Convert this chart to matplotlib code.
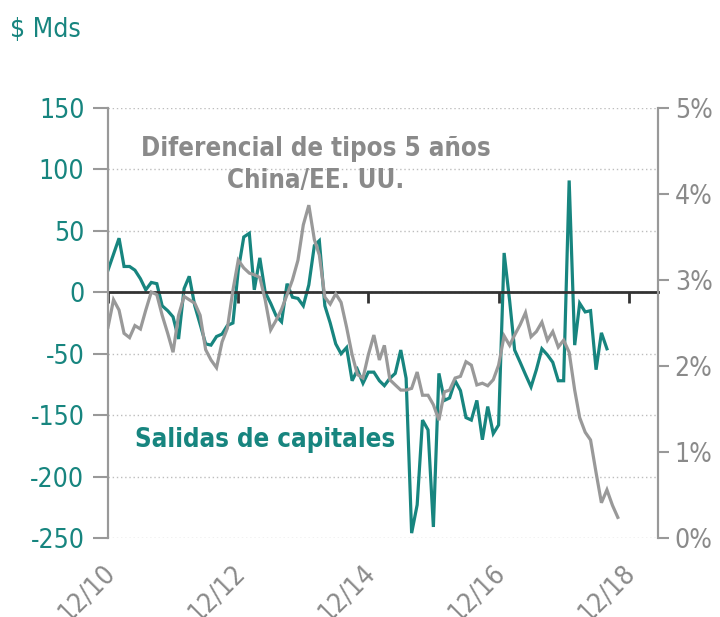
import numpy as np
import pandas as pd
import matplotlib
matplotlib.use("Agg")
import matplotlib.pyplot as plt
import matplotlib.dates as mdates
import matplotlib.transforms as mtransforms

plt.rcParams['font.family'] = ['DejaVu Sans']
plt.rcParams['font.stretch'] = 'condensed'

# salidas de capitales, $ Mds (mensual desde 12/2010)
outflows = [18, 31, 44, 21, 21, 18, 11, 2, 8, 7, -11, -15, -20, -38, 3, 13,
            -11, -26, -42, -43, -36, -34, -27, -25, 18, 45, 48, 2, 28, 0,
            -9, -19, -24, 7, -4, -5, -11, 6, 38, 42, -11, -25, -42, -50,
            -45, -72, -63, -74, -65, -65, -72, -76, -70, -66, -47, -70,
            -196, -173, -104, -112, -191, -66, -88, -86, -72, -80, -102,
            -104, -88, -120, -93, -115, -108, 32, -7, -47, -57, -67, -77,
            -63, -46, -51, -57, -72, -72, 91, -43, -9, -16, -15, -63, -33, -46]

# diferencial de tipos 5 años China/EE. UU., %
spread = [2.45, 2.77, 2.65, 2.38, 2.33, 2.47, 2.43, 2.65, 2.86, 2.83, 2.59,
          2.38, 2.16, 2.59, 2.81, 2.77, 2.73, 2.59, 2.19, 2.07, 1.98, 2.28,
          2.44, 2.88, 3.23, 3.14, 3.08, 3.06, 3.03, 2.77, 2.42, 2.53, 2.66,
          2.83, 3.0, 3.23, 3.64, 3.87, 3.47, 3.29, 2.80, 2.72, 2.84, 2.74,
          2.45, 2.13, 1.90, 1.86, 2.13, 2.36, 2.07, 2.24, 1.84, 1.78, 1.72,
          1.72, 1.74, 1.93, 1.66, 1.66, 1.55, 1.37, 1.70, 1.72, 1.86, 1.88,
          2.05, 2.01, 1.78, 1.80, 1.77, 1.84, 2.01, 2.35, 2.24, 2.36, 2.48,
          2.62, 2.34, 2.40, 2.51, 2.30, 2.40, 2.22, 2.30, 2.16, 1.72, 1.40,
          1.23, 1.14, 0.76, 0.41, 0.56, 0.38, 0.24]

left_ticks = [150, 100, 50, 0, -50, -100, -150, -200]
left_labels = ['150', '100', '50', '0', '-50', '-150', '-200', '-250']
right_ticks = [0, 1, 2, 3, 4, 5]
right_labels = ['0%', '1%', '2%', '3%', '4%', '5%']
xtick_labels = ['12/10', '12/12', '12/14', '12/16', '12/18']

teal = '#17857f'
grey = '#999999'
dgrey = '#8a8a8a'

d_out = pd.date_range('2010-12-01', periods=len(outflows), freq='MS')
d_spr = pd.date_range('2010-12-01', periods=len(spread), freq='MS')
xticks = pd.to_datetime(['2010-12-01', '2012-12-01', '2014-12-01', '2016-12-01', '2018-12-01'])

fig = plt.figure(figsize=(7.2, 6.17), dpi=100)
ax = fig.add_axes([0.15, 0.128, 0.764, 0.697])
ax2 = ax.twinx()

ax.plot(d_out, outflows, color=teal, lw=2.3, solid_joinstyle='miter')
ax2.plot(d_spr, spread, color=grey, lw=2.3, solid_joinstyle='miter')

ax.set_xlim(pd.Timestamp('2010-12-01'), pd.Timestamp('2019-05-15'))
ax.set_ylim(-200, 150)
ax2.set_ylim(0, 5)

for y in left_ticks:
    ax.axhline(y, color='#bdbdbd', lw=1, ls=(0, (1, 2)), zorder=0)

# left axis
ax.set_yticks(left_ticks)
ax.set_yticklabels(left_labels)
ax.tick_params(axis='y', colors=grey, labelcolor=teal, labelsize=19,
               length=11, width=1.5, direction='out', pad=6)
for lab in ax.get_yticklabels():
    lab.set_color(teal)

# right axis
ax2.set_yticks(right_ticks)
ax2.set_yticklabels(right_labels)
ax2.tick_params(axis='y', colors=grey, labelcolor=dgrey, labelsize=19,
                length=8, width=1.5, direction='out', pad=4)

for a in (ax, ax2):
    a.spines['top'].set_visible(False)
    a.spines['left'].set_color(grey)
    a.spines['right'].set_color(grey)
    a.spines['left'].set_linewidth(1.5)
    a.spines['right'].set_linewidth(1.5)
ax2.spines['bottom'].set_visible(False)

# zero line with ticks
ax.spines['bottom'].set_position(('data', 0))
ax.spines['bottom'].set_color('#333333')
ax.spines['bottom'].set_linewidth(2)
ax.set_xticks(xticks)
ax.tick_params(axis='x', colors='#333333', length=8, width=2,
               direction='out', labelbottom=False)

trans = mtransforms.blended_transform_factory(ax.transData, ax.transAxes)
trans = trans + mtransforms.ScaledTranslation(-6 / 100, 0, fig.dpi_scale_trans)
for d, lab in zip(xticks, xtick_labels):
    ax.text(mdates.date2num(d), -0.05, lab, transform=trans, rotation=45,
            rotation_mode='anchor', ha='right', va='top', fontsize=19,
            color=dgrey)

fig.text(0.014, 0.951, '$ Mds', color=teal, fontsize=19, va='center', ha='left')
ax.text(0.378, 0.867, 'Diferencial de tipos 5 años\nChina/EE. UU.',
        transform=ax.transAxes, ha='center', va='center', fontsize=18.5,
        fontweight='bold', color=dgrey, linespacing=1.3)
ax.text(0.049, 0.228, 'Salidas de capitales', transform=ax.transAxes,
        ha='left', va='center', fontsize=18.5, fontweight='bold', color=teal)

fig.savefig('out.png', dpi=100)
